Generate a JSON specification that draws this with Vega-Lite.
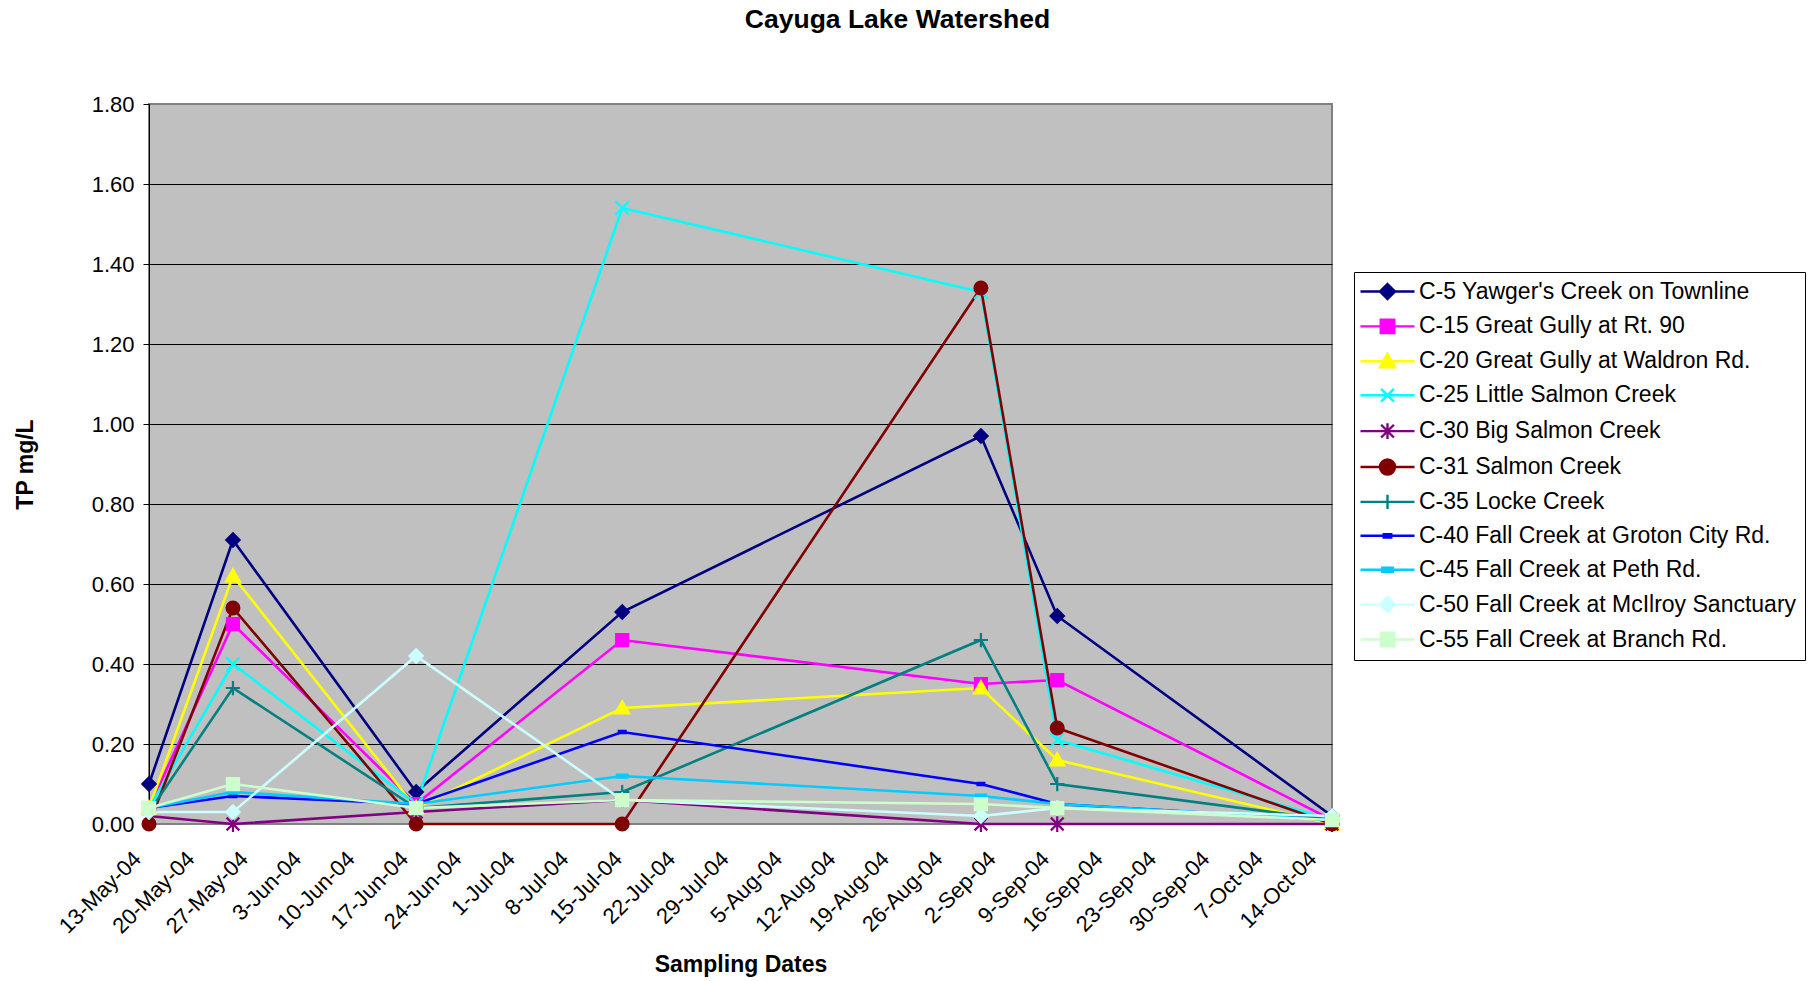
{
  "$schema": "https://vega.github.io/schema/vega-lite/v6.json",
  "width": 1183,
  "height": 720,
  "autosize": {"type": "none"},
  "padding": {"left": 149, "top": 104, "right": 479, "bottom": 157},
  "background": "white",
  "title": {
    "text": "Cayuga Lake Watershed",
    "fontSize": 26.5,
    "fontWeight": "bold",
    "font": "Liberation Sans",
    "color": "black",
    "anchor": "middle",
    "frame": "group",
    "dx": 157,
    "offset": 60
  },
  "config": {
    "font": "Liberation Sans",
    "view": {"fill": "#C0C0C0", "stroke": "#808080", "strokeWidth": 2}
  },
  "data": {
    "values": [
      {"s": "C-5 Yawger's Creek on Townline", "d": "2004-05-13", "v": 0.10},
      {"s": "C-5 Yawger's Creek on Townline", "d": "2004-05-24", "v": 0.71},
      {"s": "C-5 Yawger's Creek on Townline", "d": "2004-06-17", "v": 0.08},
      {"s": "C-5 Yawger's Creek on Townline", "d": "2004-07-14", "v": 0.53},
      {"s": "C-5 Yawger's Creek on Townline", "d": "2004-08-30", "v": 0.97},
      {"s": "C-5 Yawger's Creek on Townline", "d": "2004-09-09", "v": 0.52},
      {"s": "C-5 Yawger's Creek on Townline", "d": "2004-10-15", "v": 0.02},
      {"s": "C-15 Great Gully at Rt. 90", "d": "2004-05-13", "v": 0.04},
      {"s": "C-15 Great Gully at Rt. 90", "d": "2004-05-24", "v": 0.50},
      {"s": "C-15 Great Gully at Rt. 90", "d": "2004-06-17", "v": 0.05},
      {"s": "C-15 Great Gully at Rt. 90", "d": "2004-07-14", "v": 0.46},
      {"s": "C-15 Great Gully at Rt. 90", "d": "2004-08-30", "v": 0.35},
      {"s": "C-15 Great Gully at Rt. 90", "d": "2004-09-09", "v": 0.36},
      {"s": "C-15 Great Gully at Rt. 90", "d": "2004-10-15", "v": 0.01},
      {"s": "C-20 Great Gully at Waldron Rd.", "d": "2004-05-13", "v": 0.04},
      {"s": "C-20 Great Gully at Waldron Rd.", "d": "2004-05-24", "v": 0.62},
      {"s": "C-20 Great Gully at Waldron Rd.", "d": "2004-06-17", "v": 0.04},
      {"s": "C-20 Great Gully at Waldron Rd.", "d": "2004-07-14", "v": 0.29},
      {"s": "C-20 Great Gully at Waldron Rd.", "d": "2004-08-30", "v": 0.34},
      {"s": "C-20 Great Gully at Waldron Rd.", "d": "2004-09-09", "v": 0.16},
      {"s": "C-20 Great Gully at Waldron Rd.", "d": "2004-10-15", "v": 0.00},
      {"s": "C-25 Little Salmon Creek", "d": "2004-05-13", "v": 0.04},
      {"s": "C-25 Little Salmon Creek", "d": "2004-05-24", "v": 0.40},
      {"s": "C-25 Little Salmon Creek", "d": "2004-06-17", "v": 0.05},
      {"s": "C-25 Little Salmon Creek", "d": "2004-07-14", "v": 1.54},
      {"s": "C-25 Little Salmon Creek", "d": "2004-08-30", "v": 1.33},
      {"s": "C-25 Little Salmon Creek", "d": "2004-09-09", "v": 0.21},
      {"s": "C-25 Little Salmon Creek", "d": "2004-10-15", "v": 0.01},
      {"s": "C-30 Big Salmon Creek", "d": "2004-05-13", "v": 0.02},
      {"s": "C-30 Big Salmon Creek", "d": "2004-05-24", "v": 0.00},
      {"s": "C-30 Big Salmon Creek", "d": "2004-06-17", "v": 0.03},
      {"s": "C-30 Big Salmon Creek", "d": "2004-07-14", "v": 0.06},
      {"s": "C-30 Big Salmon Creek", "d": "2004-08-30", "v": 0.00},
      {"s": "C-30 Big Salmon Creek", "d": "2004-09-09", "v": 0.00},
      {"s": "C-30 Big Salmon Creek", "d": "2004-10-15", "v": 0.00},
      {"s": "C-31 Salmon Creek", "d": "2004-05-13", "v": 0.00},
      {"s": "C-31 Salmon Creek", "d": "2004-05-24", "v": 0.54},
      {"s": "C-31 Salmon Creek", "d": "2004-06-17", "v": 0.00},
      {"s": "C-31 Salmon Creek", "d": "2004-07-14", "v": 0.00},
      {"s": "C-31 Salmon Creek", "d": "2004-08-30", "v": 1.34},
      {"s": "C-31 Salmon Creek", "d": "2004-09-09", "v": 0.24},
      {"s": "C-31 Salmon Creek", "d": "2004-10-15", "v": 0.00},
      {"s": "C-35 Locke Creek", "d": "2004-05-13", "v": 0.03},
      {"s": "C-35 Locke Creek", "d": "2004-05-24", "v": 0.34},
      {"s": "C-35 Locke Creek", "d": "2004-06-17", "v": 0.04},
      {"s": "C-35 Locke Creek", "d": "2004-07-14", "v": 0.08},
      {"s": "C-35 Locke Creek", "d": "2004-08-30", "v": 0.46},
      {"s": "C-35 Locke Creek", "d": "2004-09-09", "v": 0.10},
      {"s": "C-35 Locke Creek", "d": "2004-10-15", "v": 0.01},
      {"s": "C-40 Fall Creek at Groton City Rd.", "d": "2004-05-13", "v": 0.04},
      {"s": "C-40 Fall Creek at Groton City Rd.", "d": "2004-05-24", "v": 0.07},
      {"s": "C-40 Fall Creek at Groton City Rd.", "d": "2004-06-17", "v": 0.05},
      {"s": "C-40 Fall Creek at Groton City Rd.", "d": "2004-07-14", "v": 0.23},
      {"s": "C-40 Fall Creek at Groton City Rd.", "d": "2004-08-30", "v": 0.10},
      {"s": "C-40 Fall Creek at Groton City Rd.", "d": "2004-09-09", "v": 0.05},
      {"s": "C-40 Fall Creek at Groton City Rd.", "d": "2004-10-15", "v": 0.01},
      {"s": "C-45 Fall Creek at Peth Rd.", "d": "2004-05-13", "v": 0.04},
      {"s": "C-45 Fall Creek at Peth Rd.", "d": "2004-05-24", "v": 0.08},
      {"s": "C-45 Fall Creek at Peth Rd.", "d": "2004-06-17", "v": 0.05},
      {"s": "C-45 Fall Creek at Peth Rd.", "d": "2004-07-14", "v": 0.12},
      {"s": "C-45 Fall Creek at Peth Rd.", "d": "2004-08-30", "v": 0.07},
      {"s": "C-45 Fall Creek at Peth Rd.", "d": "2004-09-09", "v": 0.05},
      {"s": "C-45 Fall Creek at Peth Rd.", "d": "2004-10-15", "v": 0.01},
      {"s": "C-50 Fall Creek at McIlroy Sanctuary", "d": "2004-05-13", "v": 0.03},
      {"s": "C-50 Fall Creek at McIlroy Sanctuary", "d": "2004-05-24", "v": 0.03},
      {"s": "C-50 Fall Creek at McIlroy Sanctuary", "d": "2004-06-17", "v": 0.42},
      {"s": "C-50 Fall Creek at McIlroy Sanctuary", "d": "2004-07-14", "v": 0.06},
      {"s": "C-50 Fall Creek at McIlroy Sanctuary", "d": "2004-08-30", "v": 0.02},
      {"s": "C-50 Fall Creek at McIlroy Sanctuary", "d": "2004-09-09", "v": 0.04},
      {"s": "C-50 Fall Creek at McIlroy Sanctuary", "d": "2004-10-15", "v": 0.02},
      {"s": "C-55 Fall Creek at Branch Rd.", "d": "2004-05-13", "v": 0.04},
      {"s": "C-55 Fall Creek at Branch Rd.", "d": "2004-05-24", "v": 0.10},
      {"s": "C-55 Fall Creek at Branch Rd.", "d": "2004-06-17", "v": 0.04},
      {"s": "C-55 Fall Creek at Branch Rd.", "d": "2004-07-14", "v": 0.06},
      {"s": "C-55 Fall Creek at Branch Rd.", "d": "2004-08-30", "v": 0.05},
      {"s": "C-55 Fall Creek at Branch Rd.", "d": "2004-09-09", "v": 0.04},
      {"s": "C-55 Fall Creek at Branch Rd.", "d": "2004-10-15", "v": 0.01}
    ]
  },
  "encoding": {
    "x": {
      "field": "d",
      "type": "temporal",
      "scale": {
        "type": "utc",
        "domain": [
          {"year": 2004, "month": 5, "date": 13, "utc": true},
          {"year": 2004, "month": 10, "date": 15, "utc": true}
        ],
        "nice": false
      },
      "axis": {
        "title": "Sampling Dates",
        "titleFontSize": 23,
        "titleFontWeight": "bold",
        "titleColor": "black",
        "titleY": 140,
        "titleBaseline": "middle",
        "values": [
          {"year": 2004, "month": 5, "date": 13, "utc": true},
          {"year": 2004, "month": 5, "date": 20, "utc": true},
          {"year": 2004, "month": 5, "date": 27, "utc": true},
          {"year": 2004, "month": 6, "date": 3, "utc": true},
          {"year": 2004, "month": 6, "date": 10, "utc": true},
          {"year": 2004, "month": 6, "date": 17, "utc": true},
          {"year": 2004, "month": 6, "date": 24, "utc": true},
          {"year": 2004, "month": 7, "date": 1, "utc": true},
          {"year": 2004, "month": 7, "date": 8, "utc": true},
          {"year": 2004, "month": 7, "date": 15, "utc": true},
          {"year": 2004, "month": 7, "date": 22, "utc": true},
          {"year": 2004, "month": 7, "date": 29, "utc": true},
          {"year": 2004, "month": 8, "date": 5, "utc": true},
          {"year": 2004, "month": 8, "date": 12, "utc": true},
          {"year": 2004, "month": 8, "date": 19, "utc": true},
          {"year": 2004, "month": 8, "date": 26, "utc": true},
          {"year": 2004, "month": 9, "date": 2, "utc": true},
          {"year": 2004, "month": 9, "date": 9, "utc": true},
          {"year": 2004, "month": 9, "date": 16, "utc": true},
          {"year": 2004, "month": 9, "date": 23, "utc": true},
          {"year": 2004, "month": 9, "date": 30, "utc": true},
          {"year": 2004, "month": 10, "date": 7, "utc": true},
          {"year": 2004, "month": 10, "date": 14, "utc": true}
        ],
        "format": "%-d-%b-%y",
        "labelAngle": -45,
        "labelAlign": "right",
        "labelBaseline": "middle",
        "labelPadding": 31,
        "labelOffset": -12,
        "labelFontSize": 22,
        "labelColor": "black",
        "labelOverlap": false,
        "labelFlush": false,
        "labelBound": false,
        "ticks": false,
        "domain": false,
        "grid": false
      }
    },
    "y": {
      "field": "v",
      "type": "quantitative",
      "scale": {"domain": [0, 1.8], "nice": false, "zero": true},
      "axis": {
        "title": "TP mg/L",
        "titleFontSize": 23,
        "titleFontWeight": "bold",
        "titleColor": "black",
        "titleX": -124,
        "titleY": 360,
        "titleAngle": -90,
        "titleAlign": "center",
        "titleBaseline": "middle",
        "values": [0, 0.2, 0.4, 0.6, 0.8, 1.0, 1.2, 1.4, 1.6, 1.8],
        "format": ".2f",
        "labelFontSize": 22,
        "labelColor": "black",
        "labelPadding": 9,
        "tickSize": 6,
        "tickColor": "black",
        "domainColor": "black",
        "domainWidth": 1,
        "grid": true,
        "gridColor": {"condition": {"test": "datum.value >= 1.79 || datum.value <= 0.001", "value": "#808080"}, "value": "black"},
        "gridWidth": 1,
        "gridOpacity": 1
      }
    }
  },
  "layer": [
    {
      "mark": {"type": "line", "strokeWidth": 2.6},
      "encoding": {
        "color": {
          "field": "s",
          "type": "nominal",
          "sort": null,
          "scale": {
            "domain": ["C-5 Yawger's Creek on Townline", "C-15 Great Gully at Rt. 90", "C-20 Great Gully at Waldron Rd.", "C-25 Little Salmon Creek", "C-30 Big Salmon Creek", "C-31 Salmon Creek", "C-35 Locke Creek", "C-40 Fall Creek at Groton City Rd.", "C-45 Fall Creek at Peth Rd.", "C-50 Fall Creek at McIlroy Sanctuary", "C-55 Fall Creek at Branch Rd."],
            "range": ["#000080", "#FF00FF", "#FFFF00", "#00FFFF", "#800080", "#800000", "#008080", "#0000FF", "#00CCFF", "#CCFFFF", "#CCFFCC"]
          },
          "legend": {
            "title": null,
            "orient": "none",
            "legendX": 1205,
            "legendY": 168,
            "labelFontSize": 23,
            "labelFont": "Liberation Sans",
            "labelColor": "black",
            "labelLimit": 0,
            "strokeColor": "black",
            "fillColor": "white",
            "padding": 8,
            "rowPadding": 9.9,
            "symbolSize": 225,
            "symbolStrokeWidth": 2,
            "symbolOffset": 14,
            "labelOffset": 20,
            "encode": {
              "symbols": {
                "update": {
                  "shape": {"signal": "['M-3.6,0L3.6,0M0,-1L1,0L0,1L-1,0Z','M-3.6,0L3.6,0M-0.9,-0.9L0.9,-0.9L0.9,0.9L-0.9,0.9Z','M-3.6,0L3.6,0M0,-1L1,0.8L-1,0.8Z','M-3.6,0L3.6,0M-0.85,-0.85L0.85,0.85M0.85,-0.85L-0.85,0.85','M-3.6,0L3.6,0M-0.85,-0.85L0.85,0.85M0.85,-0.85L-0.85,0.85M0,-1.05L0,1.05','M-3.6,0L3.6,0M-1,0A1,1,0,1,1,1,0A1,1,0,1,1,-1,0Z','M-3.6,0L3.6,0M0,-0.95L0,0.95','M-3.6,0L3.6,0M-0.5,-0.22L0.5,-0.22L0.5,0.22L-0.5,0.22Z','M-3.6,0L3.6,0M-0.7,-0.27L0.7,-0.27L0.7,0.27L-0.7,0.27Z','M-3.6,0L3.6,0M0,-1L1,0L0,1L-1,0Z','M-3.6,0L3.6,0M-0.9,-0.9L0.9,-0.9L0.9,0.9L-0.9,0.9Z'][datum.index]"},
                  "fill": {"scale": "color", "field": "value"},
                  "stroke": {"scale": "color", "field": "value"},
                  "strokeWidth": {"value": 2.4},
                  "opacity": {"value": 1},
                  "fillOpacity": {"value": 1}
                }
              }
            }
          }
        }
      }
    },
    {
      "transform": [{"filter": {"field": "s", "equal": "C-5 Yawger's Creek on Townline"}}],
      "mark": {"type": "point", "shape": "M0,-0.95L0.95,0L0,0.95L-0.95,0Z", "filled": true, "fill": "#000080", "stroke": "#000080", "strokeWidth": 1.5, "size": 225, "opacity": 1}
    },
    {
      "transform": [{"filter": {"field": "s", "equal": "C-15 Great Gully at Rt. 90"}}],
      "mark": {"type": "point", "shape": "M-0.85,-0.85L0.85,-0.85L0.85,0.85L-0.85,0.85Z", "filled": true, "fill": "#FF00FF", "stroke": "#FF00FF", "strokeWidth": 1.5, "size": 225, "opacity": 1}
    },
    {
      "transform": [{"filter": {"field": "s", "equal": "C-20 Great Gully at Waldron Rd."}}],
      "mark": {"type": "point", "shape": "M0,-1L1,0.75L-1,0.75Z", "filled": true, "fill": "#FFFF00", "stroke": "#FFFF00", "strokeWidth": 1.5, "size": 225, "opacity": 1}
    },
    {
      "transform": [{"filter": {"field": "s", "equal": "C-25 Little Salmon Creek"}}],
      "mark": {"type": "point", "shape": "M-0.9,-0.9L0.9,0.9M0.9,-0.9L-0.9,0.9", "filled": true, "fill": "#00FFFF", "stroke": "#00FFFF", "strokeWidth": 2.2, "size": 225, "opacity": 1}
    },
    {
      "transform": [{"filter": {"field": "s", "equal": "C-30 Big Salmon Creek"}}],
      "mark": {"type": "point", "shape": "M-0.85,-0.85L0.85,0.85M0.85,-0.85L-0.85,0.85M0,-1.05L0,1.05", "filled": true, "fill": "#800080", "stroke": "#800080", "strokeWidth": 2.2, "size": 225, "opacity": 1}
    },
    {
      "transform": [{"filter": {"field": "s", "equal": "C-31 Salmon Creek"}}],
      "mark": {"type": "point", "shape": "M-0.9,0A0.9,0.9,0,1,1,0.9,0A0.9,0.9,0,1,1,-0.9,0Z", "filled": true, "fill": "#800000", "stroke": "#800000", "strokeWidth": 1.5, "size": 225, "opacity": 1}
    },
    {
      "transform": [{"filter": {"field": "s", "equal": "C-35 Locke Creek"}}],
      "mark": {"type": "point", "shape": "M-0.95,0L0.95,0M0,-0.95L0,0.95", "filled": true, "fill": "#008080", "stroke": "#008080", "strokeWidth": 2.2, "size": 225, "opacity": 1}
    },
    {
      "transform": [{"filter": {"field": "s", "equal": "C-40 Fall Creek at Groton City Rd."}}],
      "mark": {"type": "point", "shape": "M-0.5,-0.2L0.5,-0.2L0.5,0.2L-0.5,0.2Z", "filled": true, "fill": "#0000FF", "stroke": "#0000FF", "strokeWidth": 1.5, "size": 225, "opacity": 1}
    },
    {
      "transform": [{"filter": {"field": "s", "equal": "C-45 Fall Creek at Peth Rd."}}],
      "mark": {"type": "point", "shape": "M-0.75,-0.25L0.75,-0.25L0.75,0.25L-0.75,0.25Z", "filled": true, "fill": "#00CCFF", "stroke": "#00CCFF", "strokeWidth": 1.5, "size": 225, "opacity": 1}
    },
    {
      "transform": [{"filter": {"field": "s", "equal": "C-50 Fall Creek at McIlroy Sanctuary"}}],
      "mark": {"type": "point", "shape": "M0,-0.95L0.95,0L0,0.95L-0.95,0Z", "filled": true, "fill": "#CCFFFF", "stroke": "#CCFFFF", "strokeWidth": 1.5, "size": 225, "opacity": 1}
    },
    {
      "transform": [{"filter": {"field": "s", "equal": "C-55 Fall Creek at Branch Rd."}}],
      "mark": {"type": "point", "shape": "M-0.85,-0.85L0.85,-0.85L0.85,0.85L-0.85,0.85Z", "filled": true, "fill": "#CCFFCC", "stroke": "#CCFFCC", "strokeWidth": 1.5, "size": 225, "opacity": 1}
    }
  ]
}
